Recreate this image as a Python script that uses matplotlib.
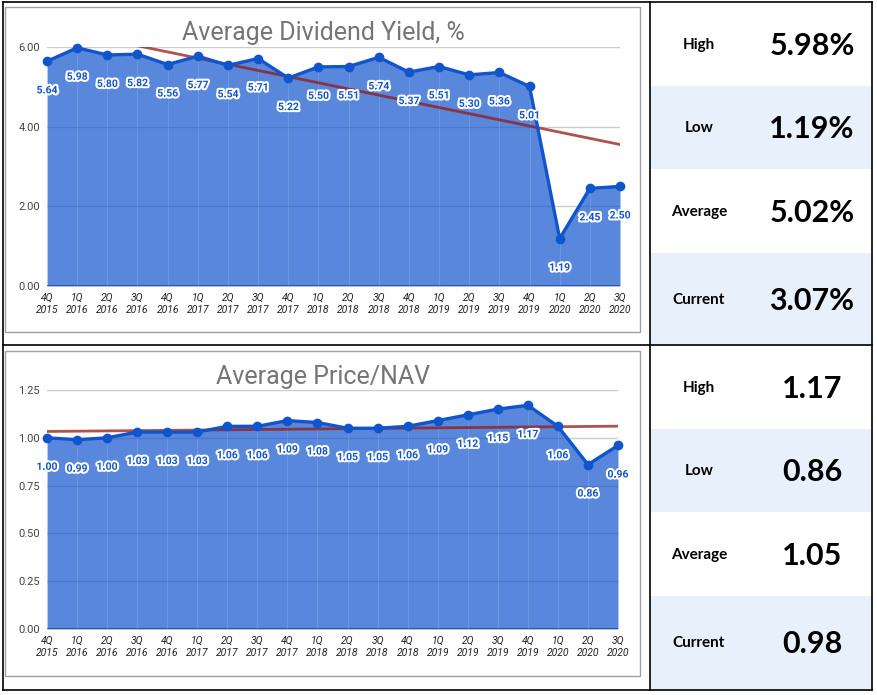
import numpy as np
import matplotlib
matplotlib.use("Agg")
import matplotlib.pyplot as plt
import matplotlib.patheffects as pe
from matplotlib.patches import Rectangle

quarters = ["4Q\n2015", "1Q\n2016", "2Q\n2016", "3Q\n2016", "4Q\n2016",
            "1Q\n2017", "2Q\n2017", "3Q\n2017", "4Q\n2017", "1Q\n2018",
            "2Q\n2018", "3Q\n2018", "4Q\n2018", "1Q\n2019", "2Q\n2019",
            "3Q\n2019", "4Q\n2019", "1Q\n2020", "2Q\n2020", "3Q\n2020"]

div_yield = [5.64, 5.98, 5.80, 5.82, 5.56, 5.77, 5.54, 5.71, 5.22, 5.50,
             5.51, 5.74, 5.37, 5.51, 5.30, 5.36, 5.01, 1.19, 2.45, 2.50]
price_nav = [1.00, 0.99, 1.00, 1.03, 1.03, 1.03, 1.06, 1.06, 1.09, 1.08,
             1.05, 1.05, 1.06, 1.09, 1.12, 1.15, 1.17, 1.06, 0.86, 0.96]

stat_names = ["High", "Low", "Average", "Current"]
yield_stats = ["5.98%", "1.19%", "5.02%", "3.07%"]
nav_stats = ["1.17", "0.86", "1.05", "0.98"]

W, H = 877, 695
LINE = "#1155cc"
TREND = "#961914"
ROW_BLUE = "#e8f0fb"

fig = plt.figure(figsize=(W / 100, H / 100), dpi=100)


def px_axes(x0, y0, x1, y1, **kw):
    return fig.add_axes([x0 / W, 1 - y1 / H, (x1 - x0) / W, (y1 - y0) / H], **kw)


# background: table frame, row shading, chart boxes
bg = px_axes(0, 0, W, H)
bg.set_xlim(0, W)
bg.set_ylim(H, 0)
bg.axis("off")
for y0, y1 in [(86, 169), (253, 345), (429, 512), (596, 690)]:
    bg.add_patch(Rectangle((650, y0), 222, y1 - y0, color=ROW_BLUE, lw=0))
for y0, y1 in [(7, 332), (351, 676)]:
    bg.add_patch(Rectangle((5, y0), 635, y1 - y0, fill=False, ec="#a0a0a0", lw=1))
bg.plot([3, 3], [2, 690], color="black", lw=1.2)
bg.plot([872, 872], [2, 690], color="black", lw=1.2)
bg.plot([650, 650], [2, 690], color="black", lw=1.2)
for y in [2, 345, 690]:
    bg.plot([3, 872], [y, y], color="black", lw=1.2)

rows_top = [45, 128, 212, 300]
rows_bot = [388, 471, 555, 643]
for rows, vals in [(rows_top, yield_stats), (rows_bot, nav_stats)]:
    for yc, name, val in zip(rows, stat_names, vals):
        bg.text(699, yc, name, ha="center", va="center", fontsize=11,
                fontweight="bold", family="Lato", color="black")
        bg.text(812, yc + 1, val, ha="center", va="center", fontsize=22,
                fontweight="bold", family="Lato", color="black")


def area_chart(ax, values, ymax, step, title, title_y):
    x = np.arange(len(values))
    ax.set_xlim(0, len(values) - 1)
    ax.set_ylim(0, ymax)
    ax.patch.set_alpha(0)
    for s in ax.spines.values():
        s.set_visible(False)
    ticks = np.arange(0, ymax + step / 2, step)
    ax.set_yticks(ticks)
    ax.set_yticklabels([f"{t:.2f}" for t in ticks])
    for t in ticks[1:]:
        ax.axhline(t, color="#cccccc", lw=1, zorder=1)
    ax.axhline(0, color="#333333", lw=1.2, zorder=1)
    ax.fill_between(x, values, 0, color=LINE, alpha=0.7, lw=0, zorder=2)
    ax.vlines(x, 0, values, color="white", alpha=0.12, lw=0.8, zorder=2.5)
    ax.plot(x, values, color=LINE, lw=2.4, marker="o", ms=6, zorder=4, clip_on=False)

    coef = np.polyfit(x, values, 1)
    ax.plot(x, np.polyval(coef, x), color=TREND, alpha=0.75, lw=2, zorder=3)

    for xi, v in zip(x, values):
        ax.annotate(f"{v:.2f}", (xi, v), xytext=(0, -29), textcoords="offset pixels",
                    ha="center", va="center", fontsize=7.5, family="Roboto",
                    fontweight="bold", color=LINE, zorder=5,
                    path_effects=[pe.withStroke(linewidth=3, foreground="white")])

    ax.set_xticks(x)
    ax.set_xticklabels(quarters, fontstyle="italic", fontsize=7.5, family="Roboto",
                       color="#222222", linespacing=1.25)
    ax.tick_params(axis="both", length=0, labelsize=8)
    ax.tick_params(axis="x", pad=5, labelsize=7.5)
    ax.tick_params(axis="y", pad=5, labelcolor="#444444")
    for lab in ax.get_yticklabels():
        lab.set_family("Roboto")
    fig.text(323 / W, 1 - title_y / H, title, ha="center", va="center",
             fontsize=18, family="Roboto", color="#757575")


ax1 = px_axes(47, 47, 620, 286)
area_chart(ax1, div_yield, 6.0, 2.0, "Average Dividend Yield, %", 33)

ax2 = px_axes(47, 390, 618, 629)
area_chart(ax2, price_nav, 1.25, 0.25, "Average Price/NAV", 377)

fig.savefig("out.png", dpi=100)
